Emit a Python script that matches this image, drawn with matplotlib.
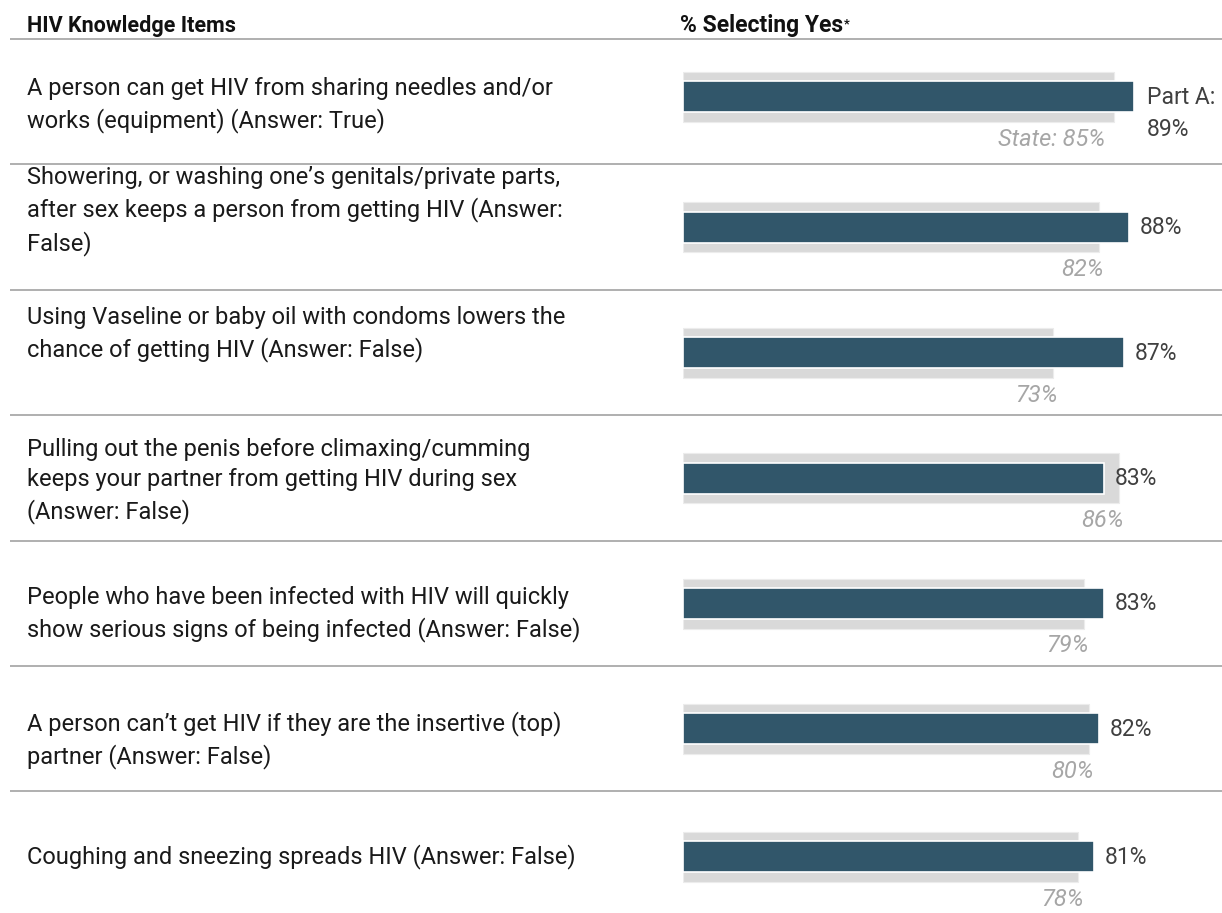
import matplotlib
matplotlib.use('Agg')
import matplotlib.pyplot as plt

plt.rcParams['font.family'] = ['Roboto', 'DejaVu Sans']

# HIV knowledge items, Part A vs State (% selecting the correct answer)
items = [
    "A person can get HIV from sharing needles and/or\nworks (equipment) (Answer: True)",
    "Showering, or washing one\u2019s genitals/private parts,\nafter sex keeps a person from getting HIV (Answer:\nFalse)",
    "Using Vaseline or baby oil with condoms lowers the\nchance of getting HIV (Answer: False)",
    "Pulling out the penis before climaxing/cumming\nkeeps your partner from getting HIV during sex\n(Answer: False)",
    "People who have been infected with HIV will quickly\nshow serious signs of being infected (Answer: False)",
    "A person can\u2019t get HIV if they are the insertive (top)\npartner (Answer: False)",
    "Coughing and sneezing spreads HIV (Answer: False)",
]
part_a = [89, 88, 87, 83, 83, 82, 81]
state = [85, 82, 73, 86, 79, 80, 78]

W, H = 1222, 913
DARK = '#31566A'
GREY = '#D9D9D9'
RULE = '#9A9A9A'

# pixel layout
row_y = [97, 227.5, 353, 478.5, 604, 729, 857]
text_y = [105, 211, 334, 481, 614, 740, 857]
rules_y = [164, 290, 415, 541, 666, 791]
bar_x0 = 683
px_per_pct = 5.07
px = 72 / 100  # points per pixel

fig = plt.figure(figsize=(W / 100, H / 100), dpi=100)
base = fig.add_axes([0, 0, 1, 1])
base.set_xlim(0, W)
base.set_ylim(H, 0)
base.axis('off')

ax = fig.add_axes([bar_x0 / W, 0, (W - bar_x0) / W, 1])
ax.set_xlim(0, (W - bar_x0) / px_per_pct)
ax.set_ylim(H, 0)
ax.axis('off')

# headers
base.text(27, 32, "HIV Knowledge Items", fontsize=15.5, fontweight='bold',
          color='#111111', va='baseline')
hdr = base.text(680, 32, "% Selecting Yes", fontsize=16.5, fontweight='bold',
                color='#111111', va='baseline')
fig.canvas.draw()
bb = hdr.get_window_extent()
base.annotate("*", xy=(bb.x1 + 1, H - 30), xycoords='figure pixels',
              fontsize=9, fontweight='bold', color='#111111', va='bottom')

# rules
base.plot([10, W], [39, 39], color=RULE, lw=1.1, solid_capstyle='butt')
for ry in rules_y:
    base.plot([10, W], [ry, ry], color=RULE, lw=1.1, solid_capstyle='butt')

# item labels
for ty, lab in zip(text_y, items):
    base.text(27, ty, lab, fontsize=17, color='#1A1A1A', va='center',
              ha='left', linespacing=1.42)

# bars: state behind, Part A on top
ax.barh(row_y, state, height=50, color=GREY, edgecolor='#ECECEC', linewidth=0.8)
ax.barh(row_y, part_a, height=31, color=DARK, edgecolor='white', linewidth=1.2)

for i, (y, a, s) in enumerate(zip(row_y, part_a, state)):
    if i == 0:
        ax.annotate("Part A:", xy=(a, y), xytext=(13 * px, 0), textcoords='offset points',
                    fontsize=16.5, color='#404040', va='center', ha='left')
        ax.annotate(f"{a}%", xy=(a, y), xytext=(13 * px, -32 * px), textcoords='offset points',
                    fontsize=16.5, color='#404040', va='center', ha='left')
        ax.annotate(f"State: {s}%", xy=(s, y), xytext=(-9 * px, -42 * px),
                    textcoords='offset points', fontsize=17, style='italic',
                    color='#A6A6A6', va='center', ha='right')
    else:
        ax.annotate(f"{a}%", xy=(a, y), xytext=(11 * px, 0), textcoords='offset points',
                    fontsize=16.5, color='#404040', va='center', ha='left')
        ax.annotate(f"{s}%", xy=(s, y), xytext=(5 * px, -42 * px),
                    textcoords='offset points', fontsize=17, style='italic',
                    color='#A6A6A6', va='center', ha='right')

fig.savefig('out.png', dpi=100)
